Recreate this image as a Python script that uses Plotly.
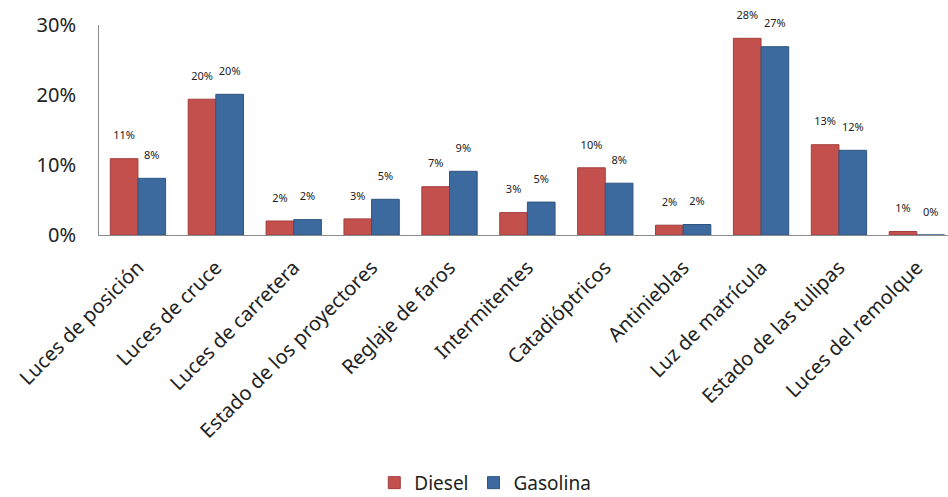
import plotly.graph_objects as go

categories = ["Luces de posición", "Luces de cruce", "Luces de carretera",
              "Estado de los proyectores", "Reglaje de faros", "Intermitentes",
              "Catadióptricos", "Antinieblas", "Luz de matrícula",
              "Estado de las tulipas", "Luces del remolque"]
diesel = [10.9, 19.4, 2.0, 2.3, 6.9, 3.2, 9.6, 1.4, 28.1, 12.9, 0.5]
gasolina = [8.1, 20.1, 2.2, 5.1, 9.1, 4.7, 7.4, 1.5, 26.9, 12.1, 0.0]
diesel_labels = ["11%", "20%", "2%", "3%", "7%", "3%", "10%", "2%", "28%", "13%", "1%"]
gasolina_labels = ["8%", "20%", "2%", "5%", "9%", "5%", "8%", "2%", "27%", "12%", "0%"]
y_ticks = [0, 10, 20, 30]
y_tick_labels = ["0%", "10%", "20%", "30%"]

FONT = "Noto Sans"
PAD = "<br><span style='font-size:7px'> </span>"
fig = go.Figure()
fig.add_trace(go.Bar(
    x=categories, y=diesel, name="Diesel",
    marker=dict(color="#C4504E", line=dict(color="#A33F3D", width=1)),
    text=[t + PAD for t in diesel_labels], textposition="outside",
    textfont=dict(size=11, color="#222222", family=FONT),
    cliponaxis=False,
))
fig.add_trace(go.Bar(
    x=categories, y=gasolina, name="Gasolina",
    marker=dict(color="#3D6A9E", line=dict(color="#2E5481", width=1)),
    text=[t + PAD for t in gasolina_labels], textposition="outside",
    textfont=dict(size=11, color="#222222", family=FONT),
    cliponaxis=False,
))
fig.update_layout(
    width=948, height=497, autosize=False,
    margin=dict(l=99, r=0, t=25, b=262, autoexpand=False),
    paper_bgcolor="white", plot_bgcolor="white",
    barmode="group", bargap=0.29, bargroupgap=0.0,
    font=dict(family=FONT, color="#222222"),
    legend=dict(orientation="h", x=0.455, xanchor="center",
                y=-1.18, yanchor="middle",
                font=dict(size=19, family=FONT, color="#222222"),
                itemwidth=30, traceorder="normal"),
    uniformtext=dict(mode=False),
)
fig.update_xaxes(
    range=[-0.5, 10.4], tickangle=-45, tickfont=dict(size=20, family=FONT, color="#222222"),
    showline=True, linecolor="#8C8C8C", linewidth=1, ticks="", showgrid=False,
    automargin=False, ticklabelstandoff=12,
)
fig.update_yaxes(
    range=[0, 30], tickvals=y_ticks, ticktext=y_tick_labels,
    tickfont=dict(size=20, family=FONT, color="#222222"),
    showline=True, linecolor="#8C8C8C", linewidth=1, ticks="", showgrid=False,
    zeroline=False, ticklabelstandoff=18, automargin=False,
)
fig.write_html("out.html", config={"displayModeBar": False},
               post_script="document.body.style.margin='0';")
